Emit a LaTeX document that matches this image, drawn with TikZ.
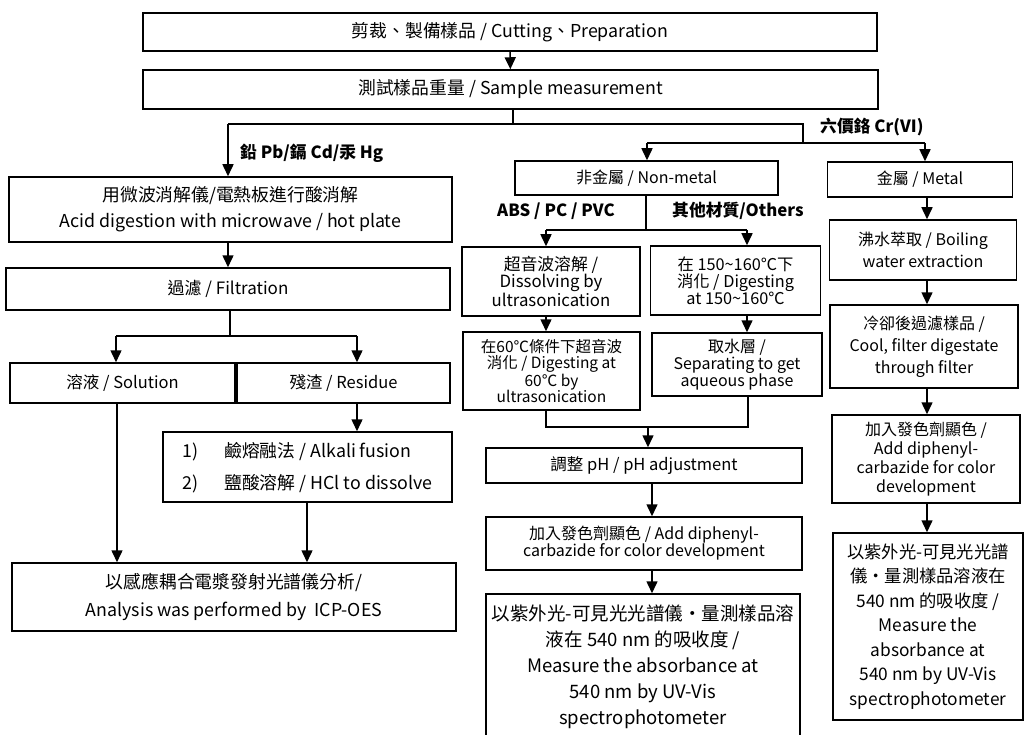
\documentclass[tikz,border=0pt]{standalone}
\usepackage{fontspec}
\setmainfont{Noto Sans CJK TC}
\usetikzlibrary{arrows.meta}
\begin{document}
\begin{tikzpicture}[x=1pt,y=-1pt]
\tikzset{
 box/.style={draw, line width=1.5pt, align=center, inner sep=2pt, font=\fontsize{16}{19}\selectfont},
 bigbox/.style={box, font=\fontsize{17.8}{26}\selectfont},
 arr/.style={line width=1.5pt, -{Triangle[width=11pt,length=12pt]}},
 ln/.style={line width=1.5pt},
 lab/.style={font=\fontsize{16.8}{19}\selectfont\bfseries, inner sep=0pt, anchor=west}
}
\useasboundingbox (0,0) rectangle (1027,735);
\clip (0,0) rectangle (1027,735);
% top
\node[bigbox, minimum width=734pt, minimum height=38pt] (cut) at (510,32) {剪裁、製備樣品 / Cutting、Preparation};
\node[bigbox, minimum width=735pt, minimum height=39pt] (meas) at (510.5,89.5) {測試樣品重量 / Sample measurement};
% left
\node[bigbox, minimum width=443pt, minimum height=65pt] (acid) at (230.5,209.5) {用微波消解儀/電熱板進行酸消解\\Acid digestion with microwave / hot plate};
\node[box, font=\fontsize{17}{20}\selectfont, minimum width=444pt, minimum height=42pt] (filt) at (228,289) {過濾 / Filtration};
\node[box, font=\fontsize{16.5}{20}\selectfont, minimum width=225pt, minimum height=40pt] (sol) at (122.5,383) {溶液 / Solution};
\node[box, font=\fontsize{16.5}{20}\selectfont, minimum width=213pt, minimum height=40pt] (res) at (343.5,383) {殘渣 / Residue};
\node[bigbox, minimum width=289pt, minimum height=70pt] (alk) at (307.5,467) {\renewcommand\arraystretch{1.25}\begin{tabular}{@{}l@{\hspace{26pt}}l@{}}1) & 鹼熔融法 / Alkali fusion\\2) & 鹽酸溶解 / HCl to dissolve\end{tabular}};
\node[bigbox, font=\fontsize{17.8}{28}\selectfont, minimum width=444pt, minimum height=68pt] (icp) at (234,597) {以感應耦合電漿發射光譜儀分析/\\Analysis was performed by\ \ ICP-OES};
% middle
\node[box, minimum width=263pt, minimum height=34pt] (nm) at (646.5,178) {非金屬 / Non-metal};
\node[box, minimum width=178pt, minimum height=69pt, font=\fontsize{16.8}{17}\selectfont] (ultra) at (551,281.5) {超音波溶解 /\\Dissolving by\\ultrasonication};
\node[box, minimum width=170pt, minimum height=69pt, font=\fontsize{16.3}{17}\selectfont] (dig) at (735.5,280.5) {在 150\textasciitilde160℃下\\消化 / Digesting\\at 150\textasciitilde160℃};
\node[box, minimum width=177pt, minimum height=78pt, font=\fontsize{15.5}{16}\selectfont] (d60) at (551.5,371) {在60℃條件下超音波\\消化 / Digesting at\\60℃ by\\ultrasonication};
\node[box, minimum width=170pt, minimum height=63pt, font=\fontsize{16}{17}\selectfont] (aq) at (737,364.5) {取水層 /\\Separating to get\\aqueous phase};
\node[box, minimum width=316pt, minimum height=35pt, font=\fontsize{16.5}{19}\selectfont] (ph) at (644,465.5) {調整 pH / pH adjustment};
\node[box, minimum width=316pt, minimum height=53pt, font=\fontsize{16}{17}\selectfont] (addm) at (644,543.5) {加入發色劑顯色 / Add diphenyl-\\carbazide for color development};
\node[box, minimum width=314pt, minimum height=146pt, font=\fontsize{18.5}{26}\selectfont] (uvm) at (643,667) {以紫外光-可見光光譜儀‧量測樣品溶\\液在 540 nm 的吸收度 /\\Measure the absorbance at\\540 nm by UV-Vis\\spectrophotometer};
% right
\node[box, minimum width=185pt, minimum height=35pt] (metal) at (920,179.5) {金屬 / Metal};
\node[box, minimum width=187pt, minimum height=60pt, font=\fontsize{16}{22}\selectfont] (boil) at (923,250) {沸水萃取 / Boiling\\water extraction};
\node[box, minimum width=188pt, minimum height=83pt, font=\fontsize{16}{22}\selectfont] (cool) at (924,346.5) {冷卻後過濾樣品 /\\Cool, filter digestate\\through filter};
\node[box, minimum width=188pt, minimum height=88pt, font=\fontsize{16}{19}\selectfont] (addr) at (926,459) {加入發色劑顯色 /\\Add diphenyl-\\carbazide for color\\development};
\node[box, minimum width=190pt, minimum height=187pt, font=\fontsize{17.3}{24.5}\selectfont] (uvr) at (928,626.5) {以紫外光-可見光光譜\\儀‧量測樣品溶液在\\540 nm 的吸收度 /\\Measure the\\absorbance at\\540 nm by UV-Vis\\spectrophotometer};
% labels
\node[lab] (lpb) at (240,153) {鉛 Pb/鎘 Cd/汞 Hg};
\node[lab] (lcr) at (820,127) {六價鉻 Cr(VI)};
\node[lab] (labs) at (497,211) {ABS / PC / PVC};
\node[lab] (loth) at (672,211) {其他材質/Others};
% connectors top
\draw[arr] (cut) -- (meas);
\coordinate (j0) at (513,124);
\coordinate (jl) at (228,124);
\coordinate (jr) at (803,124);
\coordinate (jr2) at (803,143);
\coordinate (cl) at (647,143);
\coordinate (cr) at (925,143);
\draw[ln] (meas.south -| j0) -- (j0);
\draw[ln] (jl) -- (jr) -- (jr2);
\draw[arr] (jl) -- (jl |- acid.north);
\draw[ln] (cl) -- (cr);
\draw[arr] (cl) -- (cl |- nm.north);
\draw[arr] (cr) -- (cr |- metal.north);
% left
\draw[arr] (acid.south -| jl) -- (filt.north -| jl);
\coordinate (f0) at (230,336);
\coordinate (fl) at (116,336);
\coordinate (fr) at (357,336);
\draw[ln] (filt.south -| f0) -- (f0);
\draw[ln] (fl) -- (fr);
\draw[arr] (fl) -- (fl |- sol.north);
\draw[arr] (fr) -- (fr |- res.north);
\draw[arr] (res.south -| fr) -- (alk.north -| fr);
\coordinate (sx) at (117,0);
\coordinate (ax) at (307,0);
\draw[arr] (sol.south -| sx) -- (icp.north -| sx);
\draw[arr] (alk.south -| ax) -- (icp.north -| ax);
% middle
\coordinate (n0) at (646,230);
\coordinate (nl) at (546,230);
\coordinate (nr) at (747,230);
\draw[ln] (nm.south -| n0) -- (n0);
\draw[ln] (nl) -- (nr);
\draw[arr] (nl) -- (nl |- ultra.north);
\draw[arr] (nr) -- (nr |- dig.north);
\draw[arr] (ultra.south -| nl) -- (d60.north -| nl);
\draw[arr] (dig.south -| nr) -- (aq.north -| nr);
\coordinate (ml) at (546,427);
\coordinate (mr) at (748,427);
\coordinate (mm) at (648,427);
\draw[ln] (d60.south -| ml) -- (ml) -- (mr) -- (aq.south -| mr);
\draw[arr] (mm) -- (mm |- ph.north);
\coordinate (px) at (652,0);
\draw[arr] (ph.south -| px) -- (addm.north -| px);
\draw[arr] (addm.south -| px) -- (uvm.north -| px);
% right
\coordinate (mx) at (927,0);
\draw[arr] (metal.south -| mx) -- (boil.north -| mx);
\draw[arr] (boil.south -| mx) -- (cool.north -| mx);
\draw[arr] (cool.south -| mx) -- (addr.north -| mx);
\draw[arr] (addr.south -| mx) -- (uvr.north -| mx);
\end{tikzpicture}
\end{document}
